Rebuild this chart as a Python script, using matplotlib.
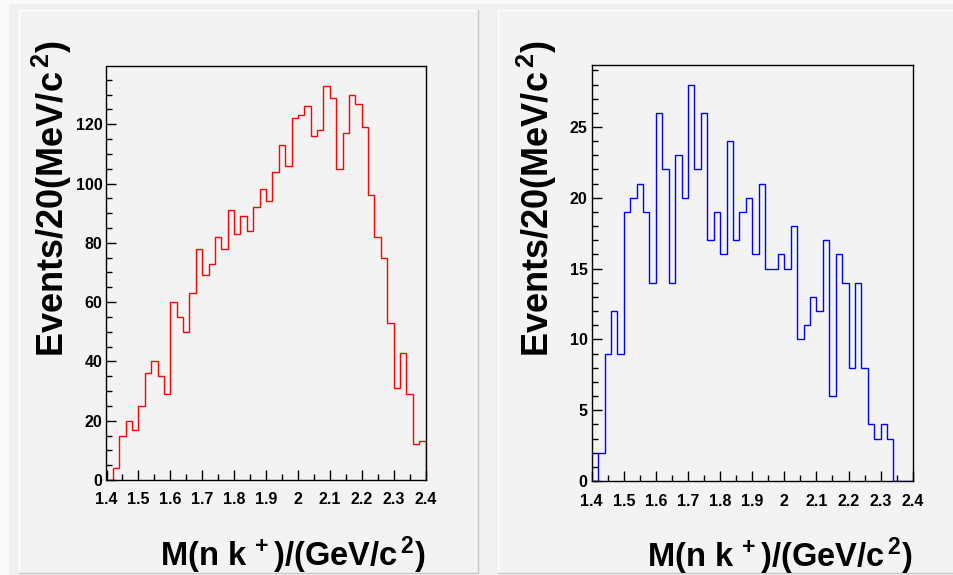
import matplotlib
matplotlib.use("Agg")
import matplotlib.pyplot as plt
import numpy as np
from matplotlib.patches import Rectangle
from matplotlib.lines import Line2D
from matplotlib.ticker import MultipleLocator, FormatStrFormatter

# ---- data: M(n K+) spectra, 50 bins of 20 MeV between 1.4 and 2.4 GeV ----
bin_edges = np.round(np.linspace(1.4, 2.4, 51), 3)

counts_left = [0, 4, 15, 20, 17, 25, 36, 40, 35, 29,
               60, 55, 50, 63, 78, 69, 73, 82, 78, 91,
               83, 89, 84, 92, 98, 94, 104, 113, 106, 122,
               123, 126, 116, 118, 133, 129, 105, 117, 130, 127,
               119, 96, 82, 75, 53, 31, 43, 29, 12, 13]

counts_right = [0, 2, 9, 12, 9, 19, 20, 21, 19, 14,
                26, 22, 14, 23, 20, 28, 22, 26, 17, 19,
                16, 24, 17, 19, 20, 16, 21, 15, 15, 16,
                15, 18, 10, 11, 13, 12, 17, 6, 16, 14,
                8, 14, 8, 4, 3, 4, 3, 0, 0, 0]

x_ticks = [1.4, 1.5, 1.6, 1.7, 1.8, 1.9, 2.0, 2.1, 2.2, 2.3, 2.4]
x_title = r"M(n k$^{\,+}$)/(GeV/c$^{\,2}$)"
y_title = r"Events/20(MeV/c$^{\,2}$)"

W, H = 954, 575
plt.rcParams["font.family"] = ["Liberation Sans", "DejaVu Sans"]
plt.rcParams["font.weight"] = "bold"
plt.rcParams["mathtext.default"] = "regular"

fig = plt.figure(figsize=(W / 100, H / 100), dpi=100)
fig.patch.set_facecolor("#fafafa")


def fx(px):
    return px / W


def fy(py):
    return 1 - py / H


# canvas and pad frames (kept below the axes)
fig.patches.append(Rectangle((fx(9), 0), 1, fy(4), transform=fig.transFigure,
                             facecolor="#f0f0f0", edgecolor="none", zorder=-3))


def pad(x0, y0, x1, y1):
    fig.patches.append(Rectangle((fx(x0), fy(y1)), fx(x1) - fx(x0), fy(y0) - fy(y1),
                                 transform=fig.transFigure, facecolor="#f3f3f3",
                                 edgecolor="none", zorder=-2))
    lt = dict(transform=fig.transFigure, lw=1.0, zorder=-1)
    fig.lines.append(Line2D([fx(x0), fx(x1)], [fy(y0), fy(y0)], color="#ffffff", **lt))
    fig.lines.append(Line2D([fx(x0), fx(x0)], [fy(y0), fy(y1)], color="#ffffff", **lt))
    fig.lines.append(Line2D([fx(x1), fx(x1)], [fy(y0), fy(y1)], color="#c8c8c8", **lt))
    fig.lines.append(Line2D([fx(x0), fx(x1)], [fy(y1), fy(y1)], color="#c8c8c8", **lt))


pad(19, 10, 478, 572.5)
pad(498, 10, 960, 572.5)


def panel(x0, y0, x1, y1, counts, color, ymajor, yminor, ylab_x, xlab_y):
    ax = fig.add_axes([fx(x0), fy(y1), fx(x1) - fx(x0), fy(y0) - fy(y1)])
    ax.set_zorder(2)
    ax.set_facecolor("#f3f3f3")
    ax.stairs(counts, bin_edges, color=color, lw=1.0, baseline=0)
    ax.set_xlim(1.4, 2.4)
    ax.set_ylim(0, max(counts) * 1.05)
    ax.set_xticks(x_ticks)
    ax.xaxis.set_minor_locator(MultipleLocator(0.05))
    ax.xaxis.set_major_formatter(FormatStrFormatter("%g"))
    ax.yaxis.set_major_locator(MultipleLocator(ymajor))
    ax.yaxis.set_minor_locator(MultipleLocator(yminor))
    ax.tick_params(which="both", direction="in", top=False, right=False,
                   width=1.0, color="black")
    ax.tick_params(which="major", length=7.5, labelsize=11.5, pad=3)
    ax.tick_params(which="minor", length=4)
    ax.tick_params(axis="x", which="major", pad=9)
    for s in ax.spines.values():
        s.set_linewidth(1.0)
    for lab in ax.get_xticklabels() + ax.get_yticklabels():
        lab.set_fontweight("bold")
    fig.text(fx(ylab_x), fy(40), y_title, rotation=90, rotation_mode="anchor",
             ha="right", va="center", fontsize=26, fontweight="bold", zorder=3)
    fig.text(fx(x1), fy(xlab_y), x_title, ha="right", va="baseline",
             fontsize=23.5, fontweight="bold", zorder=3)
    return ax


panel(106.5, 66, 425.5, 480, counts_left, "#ff0000", 20, 5, 52, 566)
panel(591.7, 64.7, 912.7, 481, counts_right, "#0000ff", 5, 1, 537, 567)

fig.savefig("out.png", dpi=100, facecolor=fig.get_facecolor())
